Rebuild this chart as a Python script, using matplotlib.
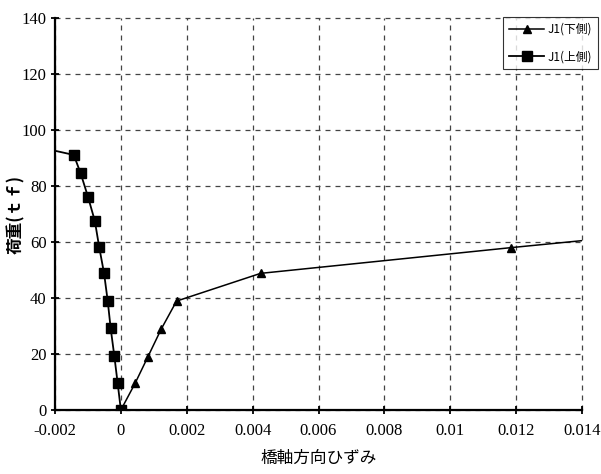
import matplotlib
matplotlib.use('Agg')
import matplotlib.pyplot as plt

# J1(下側) -- strain vs load
lower_strain = [0.0, 0.00043, 0.00082, 0.00122, 0.00169, 0.00424, 0.01185, 0.0160]
lower_load = [0.0, 9.5, 19.0, 28.8, 38.9, 48.8, 58.0, 62.8]

# J1(上側)
upper_strain = [0.0, -0.00010, -0.00020, -0.00031, -0.00040, -0.00051, -0.00066,
                -0.00079, -0.00100, -0.00122, -0.00143, -0.0030]
upper_load = [0.0, 9.8, 19.4, 29.2, 39.0, 48.8, 58.3, 67.5, 76.2, 84.5, 91.1, 95.2]

xticks = [-0.002, 0, 0.002, 0.004, 0.006, 0.008, 0.01, 0.012, 0.014]
xticklabels = ['-0.002', '0', '0.002', '0.004', '0.006', '0.008', '0.01', '0.012', '0.014']
yticks = [0, 20, 40, 60, 80, 100, 120, 140]

cjk = ['Noto Sans CJK JP', 'DejaVu Sans']
num_font = 'Liberation Serif'

fig = plt.figure(figsize=(6.01, 4.74), dpi=100)
ax = fig.add_axes([0.0915, 0.135, 0.877, 0.827])

ax.plot(lower_strain, lower_load, color='black', lw=1.1, marker='^', ms=6,
        label='J1(下側)')
ax.plot(upper_strain, upper_load, color='black', lw=1.3, marker='s', ms=7,
        label='J1(上側)')

ax.set_xlim(-0.002, 0.014)
ax.set_ylim(0, 140)
ax.set_xticks(xticks)
ax.set_xticklabels(xticklabels)
ax.set_yticks(yticks)

for lab in ax.get_xticklabels() + ax.get_yticklabels():
    lab.set_fontfamily(num_font)
    lab.set_fontsize(12)

ax.tick_params(direction='inout', length=6, width=1.3, color='black')
ax.tick_params(axis='y', pad=3)
ax.tick_params(axis='x', pad=6)
ax.grid(True, ls=(0, (4, 4)), color='#444444', lw=0.9)
for gl in ax.get_xgridlines() + ax.get_ygridlines():
    gl.set_clip_on(False)
ax.spines['top'].set_visible(False)
ax.spines['right'].set_visible(False)
ax.spines['left'].set_linewidth(1.6)
ax.spines['bottom'].set_linewidth(1.6)

ax.set_xlabel('橋軸方向ひずみ', family=cjk, fontsize=12, labelpad=8)
ax.set_ylabel('荷重(ｔｆ)', family=cjk, fontsize=12, fontweight='bold')
ax.yaxis.set_label_coords(-0.056, 0.5)

leg = fig.legend(*ax.get_legend_handles_labels(), loc='upper left',
                 bbox_to_anchor=(503 / 601, 1 - 17 / 474),
                 prop={'family': cjk, 'size': 8.5},
                 frameon=True, fancybox=False, edgecolor='black',
                 borderaxespad=0.0, handlelength=3.0, labelspacing=1.2,
                 borderpad=0.5, handletextpad=0.3)
leg.get_frame().set_linewidth(0.8)

fig.savefig('out.png', dpi=100)
